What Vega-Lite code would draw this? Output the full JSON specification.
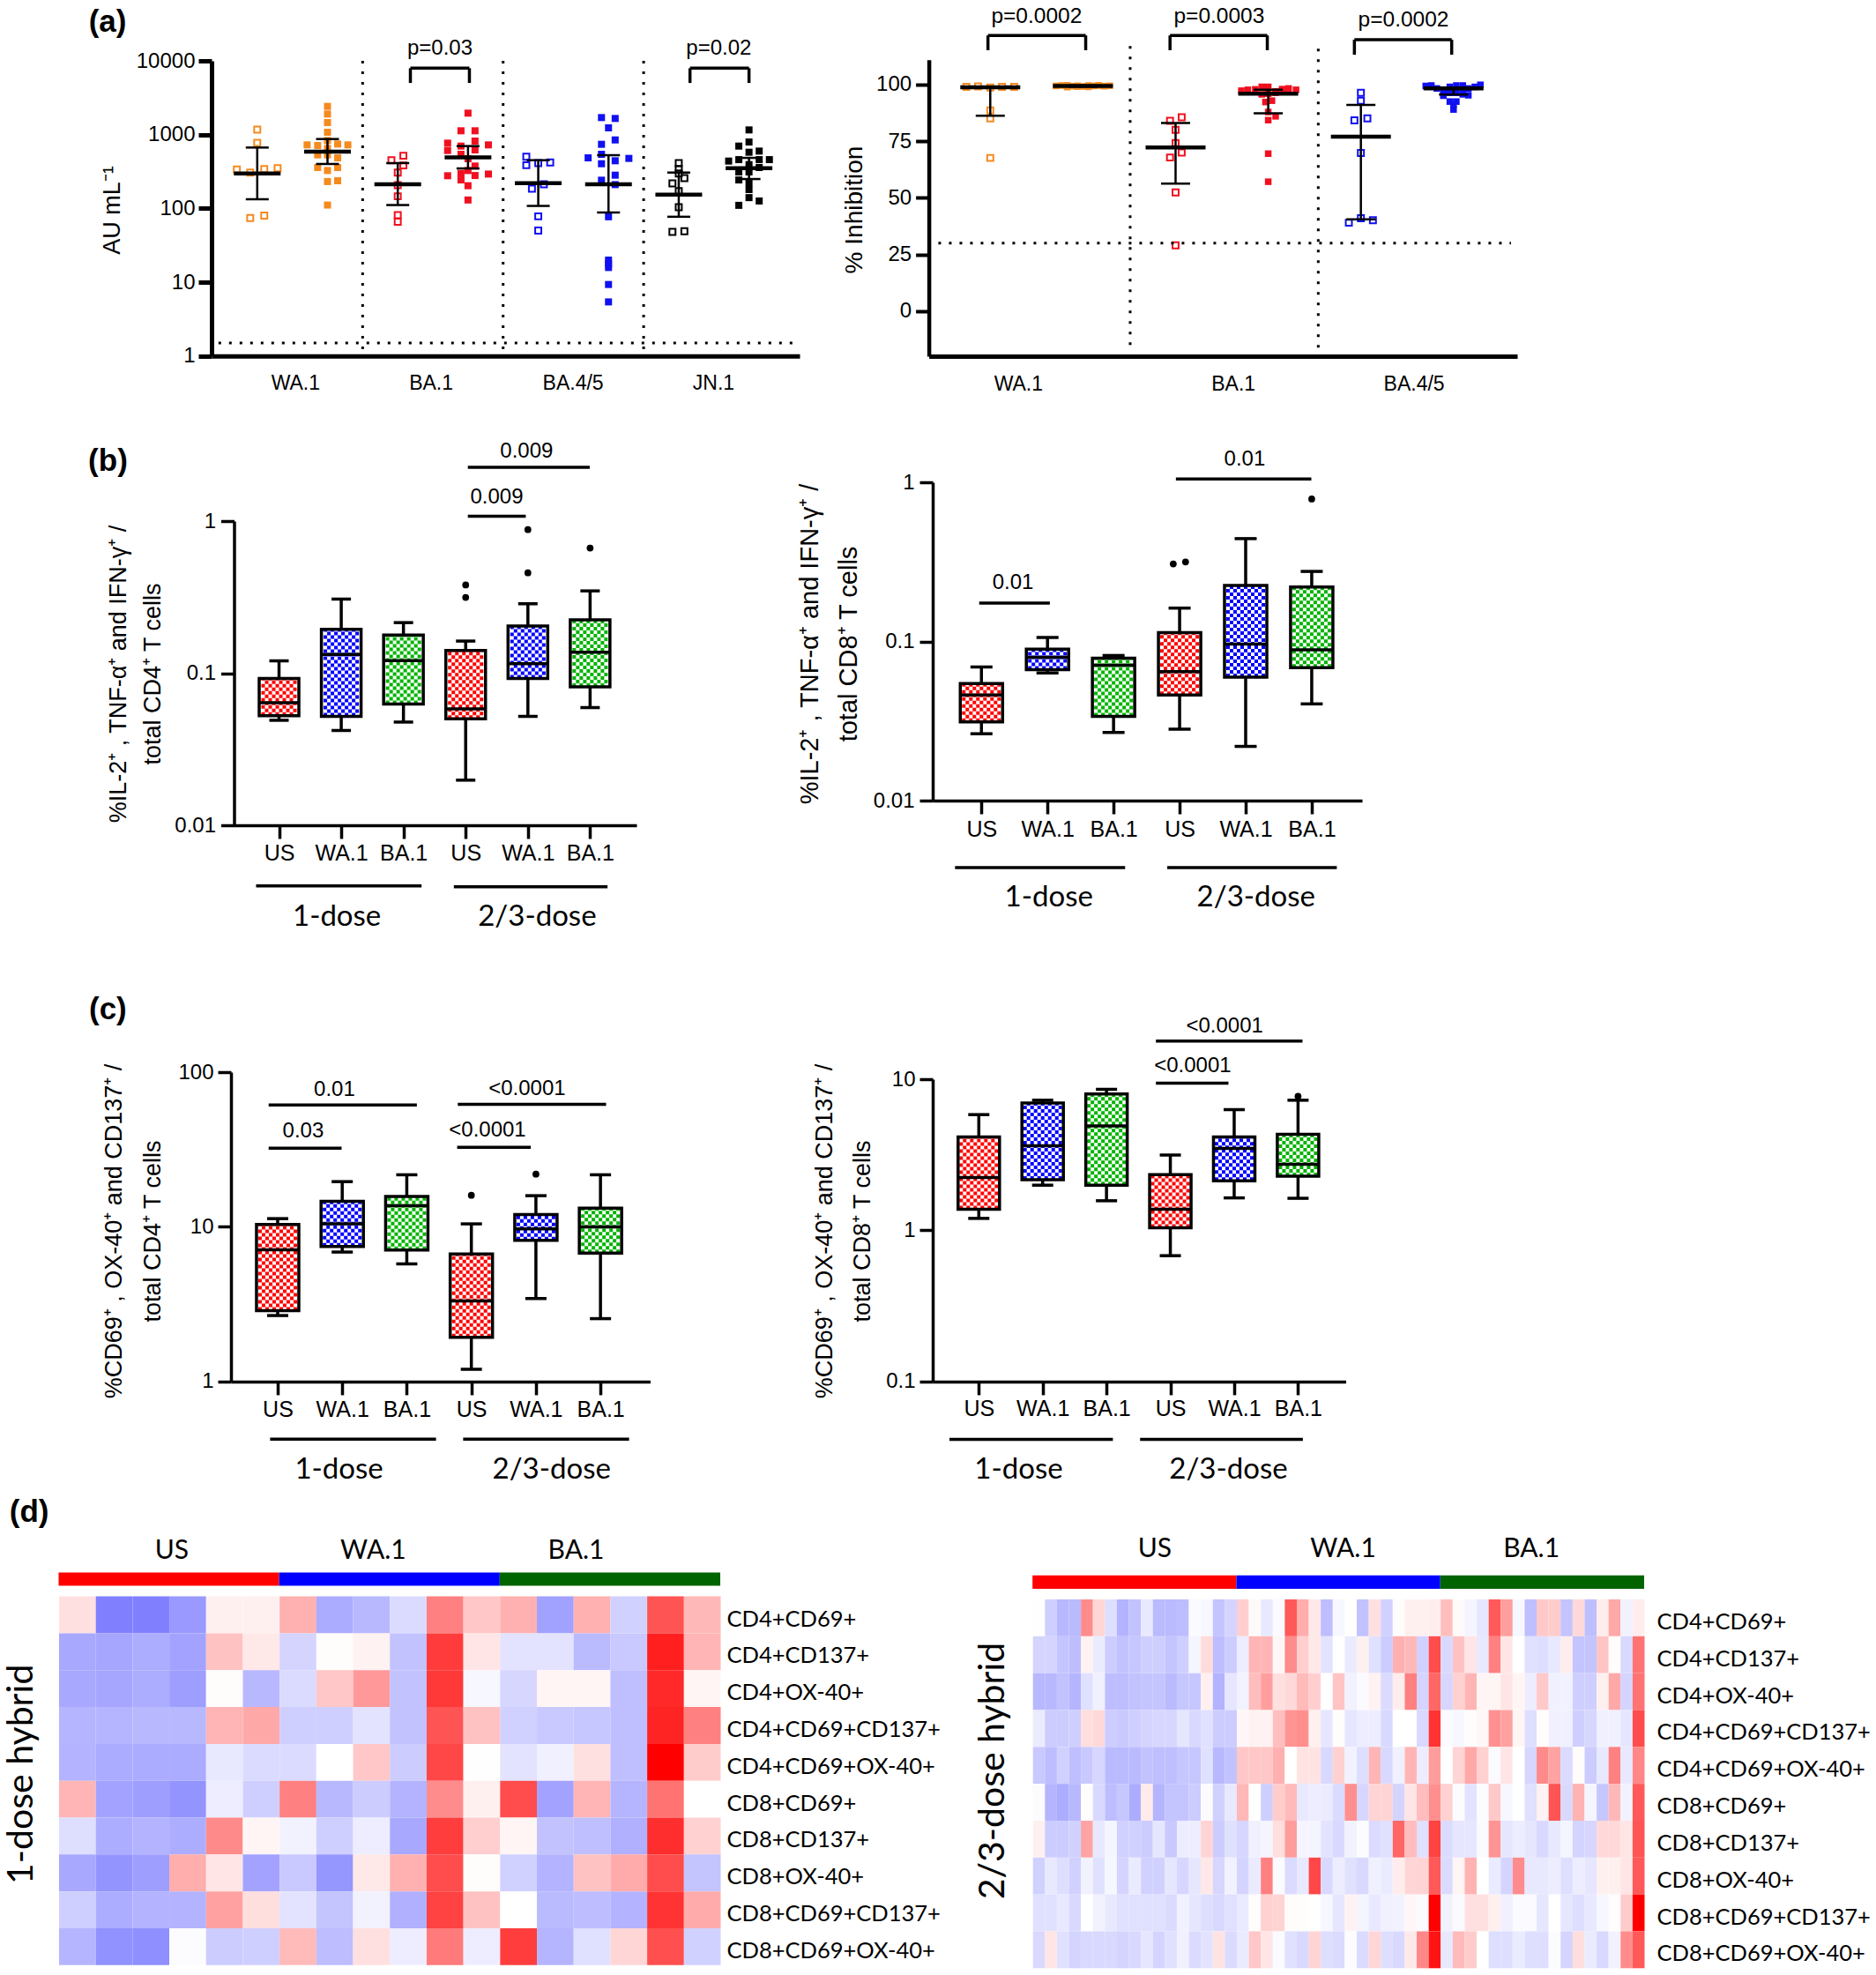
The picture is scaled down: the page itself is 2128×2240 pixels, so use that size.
{"$schema":"https://vega.github.io/schema/vega-lite/v6.json","background":"white","padding":0,"columns":2,"spacing":0,"bounds":"flush","align":"each","resolve":{"scale":{"color":"independent","fill":"independent"}},
"config":{"view":{"stroke":null},"axis":{"grid":false,"labelFont":"Liberation Sans","titleFont":"Liberation Sans","labelColor":"#000","titleColor":"#000","domainColor":"#000","tickColor":"#000","titleFontWeight":"normal","labelOverlap":false,"labelFlush":false,"labelBound":false,"titleFontSize":27,"labelFontSize":24,"titleAngle":270,"titleAlign":"center","titleBaseline":"middle"},"text":{"font":"Liberation Sans","baseline":"middle","align":"center","color":"#000"}},
"concat":[
{"width":880,"height":470,"layer":[
{"data":{"name":"a1"},"transform":[{"filter":"datum.o==1"}],"mark":{"type":"point","shape":"square","filled":false,"strokeWidth":2,"size":48,"opacity":1},"encoding":{"x":{"field":"x","type":"quantitative","scale":{"domain":[0.35,8.72],"range":[240,907],"nice":false,"zero":false},"axis":{"offset":-66.3,"values":[1.54,3.47,5.49,7.49],"labelExpr":"datum.value<2?'WA.1':datum.value<4?'BA.1':datum.value<6?'BA.4/5':'JN.1'","title":null,"ticks":false,"tickSize":0,"labelPadding":20,"labelFontSize":23,"domainWidth":5}},"y":{"field":"y","type":"quantitative","scale":{"type":"log","domain":[1,10000],"range":[403.7,69],"nice":false},"axis":{"offset":-240,"values":[1,10,100,1000,10000],"labelExpr":"datum.value+''","title":"AU mL⁻¹","titleX":-113,"titleY":238,"titleFontSize":27,"tickSize":15,"tickWidth":5,"domainWidth":5,"labelPadding":4,"labelFontSize":24}},"color":{"field":"v","type":"nominal","scale":{"domain":["WA.1","BA.1","BA.4/5","JN.1"],"range":["#f58a1f","#f01020","#1010f0","#000000"]},"legend":null}}},
{"data":{"name":"a1"},"transform":[{"filter":"datum.o==0"}],"mark":{"type":"point","shape":"square","filled":true,"size":64,"opacity":1},"encoding":{"x":{"field":"x","type":"quantitative"},"y":{"field":"y","type":"quantitative"},"color":{"field":"v","type":"nominal"}}},
{"data":{"name":"a1s"},"encoding":{"x":{"field":"x","type":"quantitative"}},"layer":[{"mark":{"type":"rule","strokeWidth":2.5,"color":"#000"},"encoding":{"y":{"field":"l","type":"quantitative"},"y2":{"field":"h"}}},{"mark":{"type":"tick","orient":"horizontal","size":53,"thickness":4.5,"color":"#000","opacity":1},"encoding":{"y":{"field":"m","type":"quantitative"}}},{"mark":{"type":"tick","orient":"horizontal","size":26,"thickness":2.5,"color":"#000","opacity":1},"encoding":{"y":{"field":"l","type":"quantitative"}}},{"mark":{"type":"tick","orient":"horizontal","size":26,"thickness":2.5,"color":"#000","opacity":1},"encoding":{"y":{"field":"h","type":"quantitative"}}}]},
{"data":{"values":[{"x":2.5,"x2":2.5,"y":10000,"y2":1},{"x":4.5,"x2":4.5,"y":10000,"y2":1},{"x":6.5,"x2":6.5,"y":10000,"y2":1},{"x":0.448,"x2":8.64,"y":1.5,"y2":1.5}]},"mark":{"type":"rule","strokeWidth":3,"strokeDash":[3,9],"color":"#000"},"encoding":{"x":{"field":"x","type":"quantitative"},"x2":{"field":"x2"},"y":{"field":"y","type":"quantitative"},"y2":{"field":"y2"}}},
{"data":{"values":[{"x":3.18,"x2":4.02,"y":7943,"y2":7943},{"x":3.18,"x2":3.18,"y":7943,"y2":5012},{"x":4.02,"x2":4.02,"y":7943,"y2":5012},{"x":7.16,"x2":8,"y":7943,"y2":7943},{"x":7.16,"x2":7.16,"y":7943,"y2":5012},{"x":8,"x2":8,"y":7943,"y2":5012}]},"mark":{"type":"rule","strokeWidth":3.5,"color":"#000"},"encoding":{"x":{"field":"x","type":"quantitative"},"x2":{"field":"x2"},"y":{"field":"y","type":"quantitative"},"y2":{"field":"y2"}}},
{"data":{"values":[{"t":"p=0.03","x":3.6,"y":14660},{"t":"p=0.02","x":7.57,"y":14660}]},"mark":{"type":"text","fontSize":24},"encoding":{"text":{"field":"t"},"x":{"field":"x","type":"quantitative"},"y":{"field":"y","type":"quantitative"}}},
{"data":{"values":[{"t":"(a)","x":-1.13,"y":33500}]},"mark":{"type":"text","fontSize":35,"fontWeight":"bold"},"encoding":{"text":{"field":"t"},"x":{"field":"x","type":"quantitative"},"y":{"field":"y","type":"quantitative"}}}
]},
{"width":1248,"height":470,"layer":[
{"data":{"name":"a2"},"transform":[{"filter":"datum.o==1"}],"mark":{"type":"point","shape":"square","filled":false,"strokeWidth":2,"size":48,"opacity":1},"encoding":{"x":{"field":"x","type":"quantitative","scale":{"domain":[0.337,6.687],"range":[173.6,841],"nice":false,"zero":false},"axis":{"offset":-66,"values":[1.3,3.62,5.57],"labelExpr":"datum.value<2?'WA.1':datum.value<4?'BA.1':'BA.4/5'","title":null,"ticks":false,"tickSize":0,"labelPadding":20,"labelFontSize":23,"domainWidth":5}},"y":{"field":"y","type":"quantitative","scale":{"domain":[-20,111],"range":[404.1,67.7],"nice":false,"zero":false},"axis":{"offset":-173.6,"values":[0,25,50,75,100],"title":"% Inhibition","titleX":-84.6,"titleY":237.5,"titleFontSize":28,"tickSize":15,"tickWidth":4,"domainWidth":4.5,"labelPadding":5}},"color":{"field":"v","type":"nominal","scale":{"domain":["WA.1","BA.1","BA.4/5"],"range":["#f58a1f","#f01020","#1010f0"]},"legend":null}}},
{"data":{"name":"a2"},"transform":[{"filter":"datum.o==0"}],"mark":{"type":"point","shape":"square","filled":true,"size":56,"opacity":1},"encoding":{"x":{"field":"x","type":"quantitative"},"y":{"field":"y","type":"quantitative"},"color":{"field":"v","type":"nominal"}}},
{"data":{"name":"a2s"},"encoding":{"x":{"field":"x","type":"quantitative"}},"layer":[{"mark":{"type":"rule","strokeWidth":2.5,"color":"#000"},"encoding":{"y":{"field":"l","type":"quantitative"},"y2":{"field":"h"}}},{"mark":{"type":"tick","orient":"horizontal","size":68,"thickness":4.5,"color":"#000","opacity":1},"encoding":{"y":{"field":"m","type":"quantitative"}}},{"mark":{"type":"tick","orient":"horizontal","size":33,"thickness":2.5,"color":"#000","opacity":1},"encoding":{"y":{"field":"l","type":"quantitative"}}},{"mark":{"type":"tick","orient":"horizontal","size":33,"thickness":2.5,"color":"#000","opacity":1},"encoding":{"y":{"field":"h","type":"quantitative"}}}]},
{"data":{"values":[{"x":2.51,"x2":2.51,"y":117,"y2":-15.7},{"x":4.54,"x2":4.54,"y":115.8,"y2":-17},{"x":0.44,"x2":6.62,"y":30,"y2":30}]},"mark":{"type":"rule","strokeWidth":3,"strokeDash":[3,9],"color":"#000"},"encoding":{"x":{"field":"x","type":"quantitative"},"x2":{"field":"x2"},"y":{"field":"y","type":"quantitative"},"y2":{"field":"y2"}}},
{"data":{"values":[{"x":0.975,"x2":2.03,"y":121.7,"y2":121.7},{"x":0.975,"x2":0.975,"y":121.7,"y2":115.2},{"x":2.03,"x2":2.03,"y":121.7,"y2":115.2},{"x":2.94,"x2":3.99,"y":121.7,"y2":121.7},{"x":2.94,"x2":2.94,"y":121.7,"y2":115.2},{"x":3.99,"x2":3.99,"y":121.7,"y2":115.2},{"x":4.93,"x2":5.98,"y":119.8,"y2":119.8},{"x":4.93,"x2":4.93,"y":119.8,"y2":113.2},{"x":5.98,"x2":5.98,"y":119.8,"y2":113.2}]},"mark":{"type":"rule","strokeWidth":3.5,"color":"#000"},"encoding":{"x":{"field":"x","type":"quantitative"},"x2":{"field":"x2"},"y":{"field":"y","type":"quantitative"},"y2":{"field":"y2"}}},
{"data":{"values":[{"t":"p=0.0002","x":1.5,"y":130},{"t":"p=0.0003","x":3.47,"y":130},{"t":"p=0.0002","x":5.46,"y":128.6}]},"mark":{"type":"text","fontSize":24.5},"encoding":{"text":{"field":"t"},"x":{"field":"x","type":"quantitative"},"y":{"field":"y","type":"quantitative"}}}
]},
{"width":880,"height":620,"layer":[
{"data":{"name":"b1"},"encoding":{"x":{"field":"x","type":"quantitative","scale":{"domain":[0.348,6.675],"range":[265.5,722],"nice":false,"zero":false},"axis":{"offset":-154,"values":[1,2,3,4,5,6],"labelExpr":"['','US','WA.1','BA.1','US','WA.1','BA.1'][datum.value]","title":null,"labelPadding":4,"labelFontSize":25,"tickSize":15,"tickWidth":3.5,"domainWidth":3.5}}},"layer":[
{"mark":{"type":"rule","strokeWidth":3.5,"color":"#000"},"encoding":{"y":{"field":"lo","type":"quantitative","scale":{"type":"log","domain":[0.01,1],"range":[466,121],"nice":false},"axis":{"offset":-265.5,"values":[0.01,0.1,1],"labelExpr":"datum.value+''","title":["%IL-2⁺ ,  TNF-α⁺  and IFN-γ⁺ /","total CD4⁺ T cells"],"titleX":-131.4,"titleY":294,"titleLineHeight":39,"tickSize":15,"tickWidth":3.5,"domainWidth":3.5,"labelPadding":6}},"y2":{"field":"hi"}}},
{"mark":{"type":"bar","size":45,"color":"white"},"encoding":{"y":{"field":"q1","type":"quantitative"},"y2":{"field":"q3"}}},
{"encoding":{"y":{"field":"q1","type":"quantitative"},"y2":{"field":"q3"},"color":{"field":"c","type":"nominal","scale":{"domain":["US","WA.1","BA.1"],"range":["#ff0000","#0000ff","#00b400"]},"legend":null}},"layer":[{"mark":{"type":"rule","strokeWidth":4,"xOffset":-18,"strokeDash":[4,4]}},{"mark":{"type":"rule","strokeWidth":4,"xOffset":-14,"strokeDash":[4,4],"strokeDashOffset":4}},{"mark":{"type":"rule","strokeWidth":4,"xOffset":-10,"strokeDash":[4,4]}},{"mark":{"type":"rule","strokeWidth":4,"xOffset":-6,"strokeDash":[4,4],"strokeDashOffset":4}},{"mark":{"type":"rule","strokeWidth":4,"xOffset":-2,"strokeDash":[4,4]}},{"mark":{"type":"rule","strokeWidth":4,"xOffset":2,"strokeDash":[4,4],"strokeDashOffset":4}},{"mark":{"type":"rule","strokeWidth":4,"xOffset":6,"strokeDash":[4,4]}},{"mark":{"type":"rule","strokeWidth":4,"xOffset":10,"strokeDash":[4,4],"strokeDashOffset":4}},{"mark":{"type":"rule","strokeWidth":4,"xOffset":14,"strokeDash":[4,4]}},{"mark":{"type":"rule","strokeWidth":4,"xOffset":18,"strokeDash":[4,4],"strokeDashOffset":4}}]},
{"mark":{"type":"bar","size":45,"fillOpacity":0,"stroke":"#000","strokeWidth":3.5},"encoding":{"y":{"field":"q1","type":"quantitative"},"y2":{"field":"q3"}}},
{"mark":{"type":"tick","orient":"horizontal","size":45,"thickness":3.5,"color":"#000","opacity":1},"encoding":{"y":{"field":"med","type":"quantitative"}}},
{"mark":{"type":"tick","orient":"horizontal","size":22,"thickness":3.5,"color":"#000","opacity":1},"encoding":{"y":{"field":"lo","type":"quantitative"}}},
{"mark":{"type":"tick","orient":"horizontal","size":22,"thickness":3.5,"color":"#000","opacity":1},"encoding":{"y":{"field":"hi","type":"quantitative"}}}
]},
{"data":{"values":[{"x":4,"y":0.38},{"x":4,"y":0.315},{"x":5,"y":0.879},{"x":5,"y":0.457},{"x":6,"y":0.665}]},"mark":{"type":"point","filled":true,"shape":"circle","size":60,"color":"#000","opacity":1},"encoding":{"x":{"field":"x","type":"quantitative"},"y":{"field":"y","type":"quantitative"}}},
{"data":{"values":[{"x":4.035,"x2":5.994,"y":2.257,"y2":2.257},{"x":4.035,"x2":4.966,"y":1.077,"y2":1.077},{"x":0.631,"x2":3.291,"y":0.00399,"y2":0.00399},{"x":3.81,"x2":6.28,"y":0.00394,"y2":0.00394}]},"mark":{"type":"rule","strokeWidth":3.5,"color":"#000"},"encoding":{"x":{"field":"x","type":"quantitative"},"x2":{"field":"x2"},"y":{"field":"y","type":"quantitative"},"y2":{"field":"y2"}}},
{"data":{"values":[{"t":"0.009","x":4.98,"y":2.86},{"t":"0.009","x":4.5,"y":1.43}]},"mark":{"type":"text","fontSize":24},"encoding":{"text":{"field":"t"},"x":{"field":"x","type":"quantitative"},"y":{"field":"y","type":"quantitative"}}},
{"data":{"values":[{"t":"1-dose","x":1.93,"y":0.0025},{"t":"2/3-dose","x":5.15,"y":0.0025}]},"mark":{"type":"text","fontSize":33,"font":"Lato"},"encoding":{"text":{"field":"t"},"x":{"field":"x","type":"quantitative"},"y":{"field":"y","type":"quantitative"}}},
{"data":{"values":[{"t":"(b)","x":-1.75,"y":2.48}]},"mark":{"type":"text","fontSize":35,"fontWeight":"bold"},"encoding":{"text":{"field":"t"},"x":{"field":"x","type":"quantitative"},"y":{"field":"y","type":"quantitative"}}}
]},
{"width":1248,"height":620,"layer":[
{"data":{"name":"b2"},"encoding":{"x":{"field":"x","type":"quantitative","scale":{"domain":[0.329,6.695],"range":[178,665],"nice":false,"zero":false},"axis":{"offset":-182,"values":[1,2,3,4,5,6],"labelExpr":"['','US','WA.1','BA.1','US','WA.1','BA.1'][datum.value]","title":null,"labelPadding":5,"labelFontSize":25,"tickSize":15,"tickWidth":3.5,"domainWidth":3.5}}},"layer":[
{"mark":{"type":"rule","strokeWidth":3.5,"color":"#000"},"encoding":{"y":{"field":"lo","type":"quantitative","scale":{"type":"log","domain":[0.01,1],"range":[438,77],"nice":false},"axis":{"offset":-178,"values":[0.01,0.1,1],"labelExpr":"datum.value+''","title":["%IL-2⁺ ,  TNF-α⁺  and IFN-γ⁺ /","total CD8⁺ T cells"],"titleX":-139.2,"titleY":260,"titleFontSize":29,"titleLineHeight":43.6,"tickSize":15,"tickWidth":3.5,"domainWidth":3.5,"labelPadding":6}},"y2":{"field":"hi"}}},
{"mark":{"type":"bar","size":48,"color":"white"},"encoding":{"y":{"field":"q1","type":"quantitative"},"y2":{"field":"q3"}}},
{"encoding":{"y":{"field":"q1","type":"quantitative"},"y2":{"field":"q3"},"color":{"field":"c","type":"nominal","scale":{"domain":["US","WA.1","BA.1"],"range":["#ff0000","#0000ff","#00b400"]},"legend":null}},"layer":[{"mark":{"type":"rule","strokeWidth":4,"xOffset":-20,"strokeDash":[4,4]}},{"mark":{"type":"rule","strokeWidth":4,"xOffset":-16,"strokeDash":[4,4],"strokeDashOffset":4}},{"mark":{"type":"rule","strokeWidth":4,"xOffset":-12,"strokeDash":[4,4]}},{"mark":{"type":"rule","strokeWidth":4,"xOffset":-8,"strokeDash":[4,4],"strokeDashOffset":4}},{"mark":{"type":"rule","strokeWidth":4,"xOffset":-4,"strokeDash":[4,4]}},{"mark":{"type":"rule","strokeWidth":4,"xOffset":0,"strokeDash":[4,4],"strokeDashOffset":4}},{"mark":{"type":"rule","strokeWidth":4,"xOffset":4,"strokeDash":[4,4]}},{"mark":{"type":"rule","strokeWidth":4,"xOffset":8,"strokeDash":[4,4],"strokeDashOffset":4}},{"mark":{"type":"rule","strokeWidth":4,"xOffset":12,"strokeDash":[4,4]}},{"mark":{"type":"rule","strokeWidth":4,"xOffset":16,"strokeDash":[4,4],"strokeDashOffset":4}},{"mark":{"type":"rule","strokeWidth":4,"xOffset":20,"strokeDash":[4,4]}}]},
{"mark":{"type":"bar","size":48,"fillOpacity":0,"stroke":"#000","strokeWidth":3.5},"encoding":{"y":{"field":"q1","type":"quantitative"},"y2":{"field":"q3"}}},
{"mark":{"type":"tick","orient":"horizontal","size":48,"thickness":3.5,"color":"#000","opacity":1},"encoding":{"y":{"field":"med","type":"quantitative"}}},
{"mark":{"type":"tick","orient":"horizontal","size":25,"thickness":3.5,"color":"#000","opacity":1},"encoding":{"y":{"field":"lo","type":"quantitative"}}},
{"mark":{"type":"tick","orient":"horizontal","size":25,"thickness":3.5,"color":"#000","opacity":1},"encoding":{"y":{"field":"hi","type":"quantitative"}}}
]},
{"data":{"values":[{"x":3.904,"y":0.307},{"x":4.09,"y":0.316},{"x":6,"y":0.785}]},"mark":{"type":"point","filled":true,"shape":"circle","size":60,"color":"#000","opacity":1},"encoding":{"x":{"field":"x","type":"quantitative"},"y":{"field":"y","type":"quantitative"}}},
{"data":{"values":[{"x":3.944,"x2":5.994,"y":1.05,"y2":1.05},{"x":0.966,"x2":2.036,"y":0.174,"y2":0.174},{"x":0.6,"x2":3.175,"y":0.00379,"y2":0.00379},{"x":3.813,"x2":6.38,"y":0.00379,"y2":0.00379}]},"mark":{"type":"rule","strokeWidth":3.5,"color":"#000"},"encoding":{"x":{"field":"x","type":"quantitative"},"x2":{"field":"x2"},"y":{"field":"y","type":"quantitative"},"y2":{"field":"y2"}}},
{"data":{"values":[{"t":"0.01","x":4.986,"y":1.4},{"t":"0.01","x":1.478,"y":0.2335}]},"mark":{"type":"text","fontSize":24},"encoding":{"text":{"field":"t"},"x":{"field":"x","type":"quantitative"},"y":{"field":"y","type":"quantitative"}}},
{"data":{"values":[{"t":"1-dose","x":2.02,"y":0.00247},{"t":"2/3-dose","x":5.157,"y":0.00247}]},"mark":{"type":"text","fontSize":33,"font":"Lato"},"encoding":{"text":{"field":"t"},"x":{"field":"x","type":"quantitative"},"y":{"field":"y","type":"quantitative"}}}
]},
{"width":880,"height":600,"layer":[
{"data":{"name":"c1"},"encoding":{"x":{"field":"x","type":"quantitative","scale":{"domain":[0.345,6.7],"range":[262,737.4],"nice":false,"zero":false},"axis":{"offset":-123.1,"values":[1,2,3,4,5,6],"labelExpr":"['','US','WA.1','BA.1','US','WA.1','BA.1'][datum.value]","title":null,"labelPadding":5,"labelFontSize":25,"tickSize":15,"tickWidth":3.5,"domainWidth":3.5}}},"layer":[
{"mark":{"type":"rule","strokeWidth":3.5,"color":"#000"},"encoding":{"y":{"field":"lo","type":"quantitative","scale":{"type":"log","domain":[1,100],"range":[476.9,126],"nice":false},"axis":{"offset":-262,"values":[1,10,100],"labelExpr":"datum.value+''","title":["%CD69⁺ ,  OX-40⁺  and CD137⁺ /","total  CD4⁺ T cells"],"titleX":-132.4,"titleY":306,"titleLineHeight":43.6,"tickSize":15,"tickWidth":3.5,"domainWidth":3.5,"labelPadding":5}},"y2":{"field":"hi"}}},
{"mark":{"type":"bar","size":48,"color":"white"},"encoding":{"y":{"field":"q1","type":"quantitative"},"y2":{"field":"q3"}}},
{"encoding":{"y":{"field":"q1","type":"quantitative"},"y2":{"field":"q3"},"color":{"field":"c","type":"nominal","scale":{"domain":["US","WA.1","BA.1"],"range":["#ff0000","#0000ff","#00b400"]},"legend":null}},"layer":[{"mark":{"type":"rule","strokeWidth":4,"xOffset":-20,"strokeDash":[4,4]}},{"mark":{"type":"rule","strokeWidth":4,"xOffset":-16,"strokeDash":[4,4],"strokeDashOffset":4}},{"mark":{"type":"rule","strokeWidth":4,"xOffset":-12,"strokeDash":[4,4]}},{"mark":{"type":"rule","strokeWidth":4,"xOffset":-8,"strokeDash":[4,4],"strokeDashOffset":4}},{"mark":{"type":"rule","strokeWidth":4,"xOffset":-4,"strokeDash":[4,4]}},{"mark":{"type":"rule","strokeWidth":4,"xOffset":0,"strokeDash":[4,4],"strokeDashOffset":4}},{"mark":{"type":"rule","strokeWidth":4,"xOffset":4,"strokeDash":[4,4]}},{"mark":{"type":"rule","strokeWidth":4,"xOffset":8,"strokeDash":[4,4],"strokeDashOffset":4}},{"mark":{"type":"rule","strokeWidth":4,"xOffset":12,"strokeDash":[4,4]}},{"mark":{"type":"rule","strokeWidth":4,"xOffset":16,"strokeDash":[4,4],"strokeDashOffset":4}},{"mark":{"type":"rule","strokeWidth":4,"xOffset":20,"strokeDash":[4,4]}}]},
{"mark":{"type":"bar","size":48,"fillOpacity":0,"stroke":"#000","strokeWidth":3.5},"encoding":{"y":{"field":"q1","type":"quantitative"},"y2":{"field":"q3"}}},
{"mark":{"type":"tick","orient":"horizontal","size":48,"thickness":3.5,"color":"#000","opacity":1},"encoding":{"y":{"field":"med","type":"quantitative"}}},
{"mark":{"type":"tick","orient":"horizontal","size":24,"thickness":3.5,"color":"#000","opacity":1},"encoding":{"y":{"field":"lo","type":"quantitative"}}},
{"mark":{"type":"tick","orient":"horizontal","size":24,"thickness":3.5,"color":"#000","opacity":1},"encoding":{"y":{"field":"hi","type":"quantitative"}}}
]},
{"data":{"values":[{"x":4,"y":16},{"x":5,"y":21.9}]},"mark":{"type":"point","filled":true,"shape":"circle","size":60,"color":"#000","opacity":1},"encoding":{"x":{"field":"x","type":"quantitative"},"y":{"field":"y","type":"quantitative"}}},
{"data":{"values":[{"x":0.86,"x2":3.156,"y":61.4,"y2":61.4},{"x":0.86,"x2":1.99,"y":32.2,"y2":32.2},{"x":3.79,"x2":6.087,"y":62,"y2":62},{"x":3.78,"x2":4.92,"y":32.7,"y2":32.7},{"x":0.883,"x2":3.453,"y":0.424,"y2":0.424},{"x":3.873,"x2":6.443,"y":0.424,"y2":0.424}]},"mark":{"type":"rule","strokeWidth":3.5,"color":"#000"},"encoding":{"x":{"field":"x","type":"quantitative"},"x2":{"field":"x2"},"y":{"field":"y","type":"quantitative"},"y2":{"field":"y2"}}},
{"data":{"values":[{"t":"0.01","x":1.88,"y":77.2},{"t":"0.03","x":1.396,"y":41.6},{"t":"<0.0001","x":4.864,"y":78},{"t":"<0.0001","x":4.25,"y":42.2}]},"mark":{"type":"text","fontSize":24},"encoding":{"text":{"field":"t"},"x":{"field":"x","type":"quantitative"},"y":{"field":"y","type":"quantitative"}}},
{"data":{"values":[{"t":"1-dose","x":1.95,"y":0.27},{"t":"2/3-dose","x":5.243,"y":0.27}]},"mark":{"type":"text","fontSize":33,"font":"Lato"},"encoding":{"text":{"field":"t"},"x":{"field":"x","type":"quantitative"},"y":{"field":"y","type":"quantitative"}}},
{"data":{"values":[{"t":"(c)","x":-1.63,"y":254}]},"mark":{"type":"text","fontSize":35,"fontWeight":"bold"},"encoding":{"text":{"field":"t"},"x":{"field":"x","type":"quantitative"},"y":{"field":"y","type":"quantitative"}}}
]},
{"width":1248,"height":600,"layer":[
{"data":{"name":"c2"},"encoding":{"x":{"field":"x","type":"quantitative","scale":{"domain":[0.347,6.678],"range":[178,646.5],"nice":false,"zero":false},"axis":{"offset":-123.1,"values":[1,2,3,4,5,6],"labelExpr":"['','US','WA.1','BA.1','US','WA.1','BA.1'][datum.value]","title":null,"labelPadding":4,"labelFontSize":25,"tickSize":15,"tickWidth":3.5,"domainWidth":3.5}}},"layer":[
{"mark":{"type":"rule","strokeWidth":3.5,"color":"#000"},"encoding":{"y":{"field":"lo","type":"quantitative","scale":{"type":"log","domain":[0.1,10],"range":[476.9,134],"nice":false},"axis":{"offset":-178,"values":[0.1,1,10],"labelExpr":"datum.value+''","title":["%CD69⁺ ,  OX-40⁺  and CD137⁺ /","total  CD8⁺ T cells"],"titleX":-122.3,"titleY":306,"titleLineHeight":42.6,"tickSize":15,"tickWidth":3.5,"domainWidth":3.5,"labelPadding":5}},"y2":{"field":"hi"}}},
{"mark":{"type":"bar","size":47,"color":"white"},"encoding":{"y":{"field":"q1","type":"quantitative"},"y2":{"field":"q3"}}},
{"encoding":{"y":{"field":"q1","type":"quantitative"},"y2":{"field":"q3"},"color":{"field":"c","type":"nominal","scale":{"domain":["US","WA.1","BA.1"],"range":["#ff0000","#0000ff","#00b400"]},"legend":null}},"layer":[{"mark":{"type":"rule","strokeWidth":4,"xOffset":-20,"strokeDash":[4,4]}},{"mark":{"type":"rule","strokeWidth":4,"xOffset":-16,"strokeDash":[4,4],"strokeDashOffset":4}},{"mark":{"type":"rule","strokeWidth":4,"xOffset":-12,"strokeDash":[4,4]}},{"mark":{"type":"rule","strokeWidth":4,"xOffset":-8,"strokeDash":[4,4],"strokeDashOffset":4}},{"mark":{"type":"rule","strokeWidth":4,"xOffset":-4,"strokeDash":[4,4]}},{"mark":{"type":"rule","strokeWidth":4,"xOffset":0,"strokeDash":[4,4],"strokeDashOffset":4}},{"mark":{"type":"rule","strokeWidth":4,"xOffset":4,"strokeDash":[4,4]}},{"mark":{"type":"rule","strokeWidth":4,"xOffset":8,"strokeDash":[4,4],"strokeDashOffset":4}},{"mark":{"type":"rule","strokeWidth":4,"xOffset":12,"strokeDash":[4,4]}},{"mark":{"type":"rule","strokeWidth":4,"xOffset":16,"strokeDash":[4,4],"strokeDashOffset":4}},{"mark":{"type":"rule","strokeWidth":4,"xOffset":20,"strokeDash":[4,4]}}]},
{"mark":{"type":"bar","size":47,"fillOpacity":0,"stroke":"#000","strokeWidth":3.5},"encoding":{"y":{"field":"q1","type":"quantitative"},"y2":{"field":"q3"}}},
{"mark":{"type":"tick","orient":"horizontal","size":47,"thickness":3.5,"color":"#000","opacity":1},"encoding":{"y":{"field":"med","type":"quantitative"}}},
{"mark":{"type":"tick","orient":"horizontal","size":24,"thickness":3.5,"color":"#000","opacity":1},"encoding":{"y":{"field":"lo","type":"quantitative"}}},
{"mark":{"type":"tick","orient":"horizontal","size":24,"thickness":3.5,"color":"#000","opacity":1},"encoding":{"y":{"field":"hi","type":"quantitative"}}}
]},
{"data":{"values":[{"x":6,"y":7.71}]},"mark":{"type":"point","filled":true,"shape":"circle","size":60,"color":"#000","opacity":1},"encoding":{"x":{"field":"x","type":"quantitative"},"y":{"field":"y","type":"quantitative"}}},
{"data":{"values":[{"x":3.774,"x2":6.07,"y":17.9,"y2":17.9},{"x":3.774,"x2":4.91,"y":9.42,"y2":9.42},{"x":0.54,"x2":3.1,"y":0.0415,"y2":0.0415},{"x":3.526,"x2":6.076,"y":0.0415,"y2":0.0415}]},"mark":{"type":"rule","strokeWidth":3.5,"color":"#000"},"encoding":{"x":{"field":"x","type":"quantitative"},"x2":{"field":"x2"},"y":{"field":"y","type":"quantitative"},"y2":{"field":"y2"}}},
{"data":{"values":[{"t":"<0.0001","x":4.85,"y":22.4},{"t":"<0.0001","x":4.35,"y":12.2}]},"mark":{"type":"text","fontSize":24},"encoding":{"text":{"field":"t"},"x":{"field":"x","type":"quantitative"},"y":{"field":"y","type":"quantitative"}}},
{"data":{"values":[{"t":"1-dose","x":1.624,"y":0.0262},{"t":"2/3-dose","x":4.91,"y":0.0262}]},"mark":{"type":"text","fontSize":33,"font":"Lato"},"encoding":{"text":{"field":"t"},"x":{"field":"x","type":"quantitative"},"y":{"field":"y","type":"quantitative"}}}
]},
{"width":880,"height":550,"resolve":{"scale":{"y":"independent"}},"layer":[
{"data":{"name":"d1"},"mark":{"type":"rect"},"encoding":{"x":{"field":"c","type":"quantitative","bin":{"step":1,"extent":[1,19]},"scale":{"domain":[1,19],"range":[66.5,817],"nice":false,"zero":false},"axis":null},"y":{"field":"r","type":"ordinal","scale":{"domain":[1,2,3,4,5,6,7,8,9,10],"range":[120.6,538.8],"paddingInner":0,"paddingOuter":0},"axis":{"orient":"right","offset":-59,"domain":false,"ticks":false,"labelPadding":3,"labelOffset":5,"labelFont":"Lato","labelFontSize":25.5,"labelLimit":400,"labelAngle":0,"labelExpr":"['CD4+CD69+','CD4+CD137+','CD4+OX-40+','CD4+CD69+CD137+','CD4+CD69+OX-40+','CD8+CD69+','CD8+CD137+','CD8+OX-40+','CD8+CD69+CD137+','CD8+CD69+OX-40+'][datum.value-1]","title":"1-dose hybrid","titleFont":"Lato","titleFontSize":41,"titleX":-797,"titleY":321.8}},"color":{"field":"v","type":"quantitative","scale":{"domain":[-10,0,10],"range":["#0000ff","#ffffff","#ff0000"],"interpolate":"rgb"},"legend":null}}},
{"data":{"values":[{"g":"US","x":1,"x2":7,"y0":0,"y1":1},{"g":"WA.1","x":7,"x2":13,"y0":0,"y1":1},{"g":"BA.1","x":13,"x2":19,"y0":0,"y1":1}]},"mark":{"type":"rect"},"encoding":{"x":{"field":"x","type":"quantitative"},"x2":{"field":"x2"},"y":{"field":"y0","type":"quantitative","scale":{"domain":[0,1],"range":[108.6,93.4],"nice":false},"axis":null},"y2":{"field":"y1"},"fill":{"field":"g","type":"nominal","scale":{"domain":["US","WA.1","BA.1"],"range":["#ff0000","#0000ff","#006400"]},"legend":null}}},
{"data":{"values":[{"t":"US","x":4.08,"y":2.62},{"t":"WA.1","x":9.56,"y":2.62},{"t":"BA.1","x":15.08,"y":2.62}]},"mark":{"type":"text","fontSize":30,"font":"Lato"},"encoding":{"text":{"field":"t"},"x":{"field":"x","type":"quantitative"},"y":{"field":"y","type":"quantitative","scale":{"domain":[0,1],"range":[108.6,93.4],"nice":false},"axis":null}}},
{"data":{"values":[{"t":"(d)","x":0.2,"y":5.5}]},"mark":{"type":"text","fontSize":35,"fontWeight":"bold"},"encoding":{"text":{"field":"t"},"x":{"field":"x","type":"quantitative"},"y":{"field":"y","type":"quantitative","scale":{"domain":[0,1],"range":[108.6,93.4],"nice":false},"axis":null}}}
]},
{"width":1248,"height":550,"resolve":{"scale":{"y":"independent"}},"layer":[
{"data":{"name":"d2"},"mark":{"type":"rect"},"encoding":{"x":{"field":"c","type":"quantitative","bin":{"step":1,"extent":[1,52]},"scale":{"domain":[1,52],"range":[291.2,985],"nice":false,"zero":false},"axis":null},"y":{"field":"r","type":"ordinal","scale":{"domain":[1,2,3,4,5,6,7,8,9,10],"range":[124,542.3],"paddingInner":0,"paddingOuter":0},"axis":{"orient":"right","offset":-252,"domain":false,"ticks":false,"labelPadding":3,"labelOffset":5,"labelFont":"Lato","labelFontSize":25.5,"labelLimit":400,"labelAngle":0,"labelExpr":"['CD4+CD69+','CD4+CD137+','CD4+OX-40+','CD4+CD69+CD137+','CD4+CD69+OX-40+','CD8+CD69+','CD8+CD137+','CD8+OX-40+','CD8+CD69+CD137+','CD8+CD69+OX-40+'][datum.value-1]","title":"2/3-dose hybrid","titleFont":"Lato","titleFontSize":41,"titleX":-749.4,"titleY":318}},"color":{"field":"v","type":"quantitative","scale":{"domain":[-10,0,10],"range":["#0000ff","#ffffff","#ff0000"],"interpolate":"rgb"},"legend":null}}},
{"data":{"values":[{"g":"US","x":1,"x2":18,"y0":0,"y1":1},{"g":"WA.1","x":18,"x2":35,"y0":0,"y1":1},{"g":"BA.1","x":35,"x2":52,"y0":0,"y1":1}]},"mark":{"type":"rect"},"encoding":{"x":{"field":"x","type":"quantitative"},"x2":{"field":"x2"},"y":{"field":"y0","type":"quantitative","scale":{"domain":[0,1],"range":[112,96.7],"nice":false},"axis":null},"y2":{"field":"y1"},"fill":{"field":"g","type":"nominal","scale":{"domain":["US","WA.1","BA.1"],"range":["#ff0000","#0000ff","#006400"]},"legend":null}}},
{"data":{"values":[{"t":"US","x":11.2,"y":2.96},{"t":"WA.1","x":26.9,"y":2.96},{"t":"BA.1","x":42.6,"y":2.96}]},"mark":{"type":"text","fontSize":30,"font":"Lato"},"encoding":{"text":{"field":"t"},"x":{"field":"x","type":"quantitative"},"y":{"field":"y","type":"quantitative","scale":{"domain":[0,1],"range":[112,96.7],"nice":false},"axis":null}}}
]}
],
"datasets":{
"a1":[{"v":"WA.1","o":1,"x":1,"y":1170},{"v":"WA.1","o":1,"x":1,"y":773},{"v":"WA.1","o":1,"x":0.71,"y":336},{"v":"WA.1","o":1,"x":0.9,"y":306},{"v":"WA.1","o":1,"x":1.1,"y":342},{"v":"WA.1","o":1,"x":1.29,"y":351},{"v":"WA.1","o":1,"x":1.1,"y":80},{"v":"WA.1","o":1,"x":0.9,"y":74},
{"v":"WA.1","o":0,"x":2,"y":2412},{"v":"WA.1","o":0,"x":2,"y":1900},{"v":"WA.1","o":0,"x":2,"y":1456},{"v":"WA.1","o":0,"x":2,"y":1076},{"v":"WA.1","o":0,"x":2,"y":832},{"v":"WA.1","o":0,"x":1.71,"y":726},{"v":"WA.1","o":0,"x":1.86,"y":712},{"v":"WA.1","o":0,"x":2.145,"y":746},{"v":"WA.1","o":0,"x":2.29,"y":726},{"v":"WA.1","o":0,"x":2,"y":650},{"v":"WA.1","o":0,"x":1.86,"y":531},{"v":"WA.1","o":0,"x":2,"y":531},{"v":"WA.1","o":0,"x":2.145,"y":484},{"v":"WA.1","o":0,"x":1.86,"y":358},{"v":"WA.1","o":0,"x":2,"y":326},{"v":"WA.1","o":0,"x":2.145,"y":358},{"v":"WA.1","o":0,"x":2,"y":231},{"v":"WA.1","o":0,"x":2.145,"y":237},{"v":"WA.1","o":0,"x":2,"y":111},
{"v":"BA.1","o":1,"x":3.08,"y":517},{"v":"BA.1","o":1,"x":2.91,"y":450},{"v":"BA.1","o":1,"x":3.08,"y":382},{"v":"BA.1","o":1,"x":3,"y":306},{"v":"BA.1","o":1,"x":3,"y":206},{"v":"BA.1","o":1,"x":3,"y":146},{"v":"BA.1","o":1,"x":3,"y":81},{"v":"BA.1","o":1,"x":3,"y":66},
{"v":"BA.1","o":0,"x":4,"y":1954},{"v":"BA.1","o":0,"x":3.9,"y":1127},{"v":"BA.1","o":0,"x":4.1,"y":1127},{"v":"BA.1","o":0,"x":4.1,"y":817},{"v":"BA.1","o":0,"x":3.71,"y":766},{"v":"BA.1","o":0,"x":3.9,"y":699},{"v":"BA.1","o":0,"x":4.29,"y":726},{"v":"BA.1","o":0,"x":4.1,"y":621},{"v":"BA.1","o":0,"x":3.71,"y":609},{"v":"BA.1","o":0,"x":3.9,"y":541},{"v":"BA.1","o":0,"x":4,"y":471},{"v":"BA.1","o":0,"x":4.1,"y":375},{"v":"BA.1","o":0,"x":4,"y":326},{"v":"BA.1","o":0,"x":3.71,"y":277},{"v":"BA.1","o":0,"x":3.9,"y":298},{"v":"BA.1","o":0,"x":4.1,"y":279},{"v":"BA.1","o":0,"x":4.29,"y":292},{"v":"BA.1","o":0,"x":3.9,"y":243},{"v":"BA.1","o":0,"x":4,"y":203},{"v":"BA.1","o":0,"x":4,"y":130},
{"v":"BA.4/5","o":1,"x":4.83,"y":502},{"v":"BA.4/5","o":1,"x":4.83,"y":385},{"v":"BA.4/5","o":1,"x":5,"y":411},{"v":"BA.4/5","o":1,"x":5.17,"y":419},{"v":"BA.4/5","o":1,"x":5.08,"y":212},{"v":"BA.4/5","o":1,"x":4.91,"y":185},{"v":"BA.4/5","o":1,"x":5,"y":78},{"v":"BA.4/5","o":1,"x":5,"y":50},
{"v":"BA.4/5","o":0,"x":5.9,"y":1702},{"v":"BA.4/5","o":0,"x":6.095,"y":1656},{"v":"BA.4/5","o":0,"x":6,"y":1236},{"v":"BA.4/5","o":0,"x":6.095,"y":847},{"v":"BA.4/5","o":0,"x":5.9,"y":739},{"v":"BA.4/5","o":0,"x":5.9,"y":541},{"v":"BA.4/5","o":0,"x":5.71,"y":484},{"v":"BA.4/5","o":0,"x":6.29,"y":476},{"v":"BA.4/5","o":0,"x":6.095,"y":442},{"v":"BA.4/5","o":0,"x":5.9,"y":403},{"v":"BA.4/5","o":0,"x":6.095,"y":282},{"v":"BA.4/5","o":0,"x":5.9,"y":241},{"v":"BA.4/5","o":0,"x":6.095,"y":210},{"v":"BA.4/5","o":0,"x":6,"y":77},{"v":"BA.4/5","o":0,"x":6,"y":19.9},{"v":"BA.4/5","o":0,"x":6,"y":17.7},{"v":"BA.4/5","o":0,"x":6,"y":15.8},{"v":"BA.4/5","o":0,"x":6,"y":9.3},{"v":"BA.4/5","o":0,"x":6,"y":5.4},
{"v":"JN.1","o":1,"x":7,"y":411},{"v":"JN.1","o":1,"x":7,"y":342},{"v":"JN.1","o":1,"x":7,"y":298},{"v":"JN.1","o":1,"x":7.08,"y":257},{"v":"JN.1","o":1,"x":6.91,"y":218},{"v":"JN.1","o":1,"x":7,"y":172},{"v":"JN.1","o":1,"x":7,"y":104},{"v":"JN.1","o":1,"x":6.91,"y":48},{"v":"JN.1","o":1,"x":7.08,"y":49},
{"v":"JN.1","o":0,"x":8,"y":1158},{"v":"JN.1","o":0,"x":8,"y":794},{"v":"JN.1","o":0,"x":7.855,"y":699},{"v":"JN.1","o":0,"x":8.145,"y":598},{"v":"JN.1","o":0,"x":8,"y":577},{"v":"JN.1","o":0,"x":7.71,"y":438},{"v":"JN.1","o":0,"x":7.855,"y":458},{"v":"JN.1","o":0,"x":8.145,"y":458},{"v":"JN.1","o":0,"x":8.29,"y":458},{"v":"JN.1","o":0,"x":8,"y":392},{"v":"JN.1","o":0,"x":7.855,"y":312},{"v":"JN.1","o":0,"x":8,"y":312},{"v":"JN.1","o":0,"x":8.145,"y":358},{"v":"JN.1","o":0,"x":7.855,"y":243},{"v":"JN.1","o":0,"x":8,"y":222},{"v":"JN.1","o":0,"x":8,"y":180},{"v":"JN.1","o":0,"x":8,"y":140},{"v":"JN.1","o":0,"x":8.145,"y":126},{"v":"JN.1","o":0,"x":7.855,"y":110}],
"a1s":[{"x":1,"m":298,"l":133,"h":668},{"x":2,"m":587,"l":400,"h":871},{"x":3,"m":212,"l":111,"h":411},{"x":4,"m":493,"l":348,"h":699},{"x":5,"m":220,"l":108,"h":450},{"x":6,"m":212,"l":88,"h":526},{"x":7,"m":154,"l":77,"h":306},{"x":8,"m":351,"l":250,"h":484}],
"a2":[{"v":"WA.1","o":1,"x":0.742,"y":99},{"v":"WA.1","o":1,"x":0.868,"y":99.2},{"v":"WA.1","o":1,"x":1,"y":98.7},{"v":"WA.1","o":1,"x":1.127,"y":99},{"v":"WA.1","o":1,"x":1.258,"y":99},{"v":"WA.1","o":1,"x":1,"y":88.6},{"v":"WA.1","o":1,"x":1,"y":85.1},{"v":"WA.1","o":1,"x":1,"y":67.6},
{"v":"WA.1","o":0,"x":1.71,"y":99.4},{"v":"WA.1","o":0,"x":1.77,"y":99.6},{"v":"WA.1","o":0,"x":1.83,"y":98.9},{"v":"WA.1","o":0,"x":1.89,"y":99.3},{"v":"WA.1","o":0,"x":1.94,"y":99.1},{"v":"WA.1","o":0,"x":2,"y":99.2},{"v":"WA.1","o":0,"x":2.06,"y":99},{"v":"WA.1","o":0,"x":2.12,"y":99.4},{"v":"WA.1","o":0,"x":2.17,"y":99.6},{"v":"WA.1","o":0,"x":2.23,"y":99.3},{"v":"WA.1","o":0,"x":2.29,"y":99.5},{"v":"WA.1","o":0,"x":1.83,"y":99.7},{"v":"WA.1","o":0,"x":1.94,"y":99.5},{"v":"WA.1","o":0,"x":2.06,"y":99.6},{"v":"WA.1","o":0,"x":2.17,"y":99.7},
{"v":"BA.1","o":1,"x":3.066,"y":85.6},{"v":"BA.1","o":1,"x":2.94,"y":84},{"v":"BA.1","o":1,"x":3,"y":80},{"v":"BA.1","o":1,"x":3,"y":74.2},{"v":"BA.1","o":1,"x":3.066,"y":70},{"v":"BA.1","o":1,"x":2.94,"y":67.8},{"v":"BA.1","o":1,"x":3,"y":52.4},{"v":"BA.1","o":1,"x":3,"y":29},
{"v":"BA.1","o":0,"x":3.71,"y":97.3},{"v":"BA.1","o":0,"x":3.78,"y":97.7},{"v":"BA.1","o":0,"x":3.86,"y":97.9},{"v":"BA.1","o":0,"x":3.93,"y":99},{"v":"BA.1","o":0,"x":4,"y":99},{"v":"BA.1","o":0,"x":4.08,"y":97},{"v":"BA.1","o":0,"x":4.15,"y":98},{"v":"BA.1","o":0,"x":4.22,"y":98.3},{"v":"BA.1","o":0,"x":4.3,"y":97.7},{"v":"BA.1","o":0,"x":3.93,"y":95.7},{"v":"BA.1","o":0,"x":4,"y":96},{"v":"BA.1","o":0,"x":4.08,"y":96.4},{"v":"BA.1","o":0,"x":3.97,"y":92.3},{"v":"BA.1","o":0,"x":4.04,"y":92.9},{"v":"BA.1","o":0,"x":4,"y":87.9},{"v":"BA.1","o":0,"x":4.08,"y":86},{"v":"BA.1","o":0,"x":4,"y":84.3},{"v":"BA.1","o":0,"x":4,"y":69.5},{"v":"BA.1","o":0,"x":4,"y":57.1},
{"v":"BA.4/5","o":1,"x":5,"y":96.4},{"v":"BA.4/5","o":1,"x":5,"y":92.9},{"v":"BA.4/5","o":1,"x":5.07,"y":85.1},{"v":"BA.4/5","o":1,"x":4.93,"y":84.2},{"v":"BA.4/5","o":1,"x":5,"y":69.8},{"v":"BA.4/5","o":1,"x":5,"y":41},{"v":"BA.4/5","o":1,"x":5.13,"y":40.1},{"v":"BA.4/5","o":1,"x":4.87,"y":39},
{"v":"BA.4/5","o":0,"x":5.7,"y":99.4},{"v":"BA.4/5","o":0,"x":5.76,"y":99.6},{"v":"BA.4/5","o":0,"x":5.82,"y":98.3},{"v":"BA.4/5","o":0,"x":5.89,"y":97},{"v":"BA.4/5","o":0,"x":5.89,"y":95.1},{"v":"BA.4/5","o":0,"x":5.96,"y":99},{"v":"BA.4/5","o":0,"x":5.96,"y":92.5},{"v":"BA.4/5","o":0,"x":6,"y":89},{"v":"BA.4/5","o":0,"x":6,"y":91.2},{"v":"BA.4/5","o":0,"x":6.03,"y":92.5},{"v":"BA.4/5","o":0,"x":6.03,"y":99.6},{"v":"BA.4/5","o":0,"x":6.1,"y":99.6},{"v":"BA.4/5","o":0,"x":6.1,"y":97},{"v":"BA.4/5","o":0,"x":6.16,"y":98.3},{"v":"BA.4/5","o":0,"x":6.16,"y":95.3},{"v":"BA.4/5","o":0,"x":6.23,"y":99},{"v":"BA.4/5","o":0,"x":6.29,"y":99.9},{"v":"BA.4/5","o":0,"x":5.96,"y":96.4},{"v":"BA.4/5","o":0,"x":6.03,"y":96.4},{"v":"BA.4/5","o":0,"x":6.1,"y":95.7}],
"a2s":[{"x":1,"m":98.8,"l":86.3,"h":99},{"x":2,"m":99.4,"l":99.1,"h":99.6},{"x":3,"m":72.2,"l":56.3,"h":83},{"x":4,"m":96,"l":87.3,"h":97.7},{"x":5,"m":77,"l":40.5,"h":91},{"x":6,"m":98.3,"l":95.6,"h":98.6}],
"b1":[{"x":1,"c":"US","lo":0.049,"q1":0.0525,"med":0.064,"q3":0.0924,"hi":0.1205},{"x":2,"c":"WA.1","lo":0.042,"q1":0.052,"med":0.133,"q3":0.1945,"hi":0.307},{"x":3,"c":"BA.1","lo":0.0477,"q1":0.0627,"med":0.121,"q3":0.178,"hi":0.215},{"x":4,"c":"US","lo":0.0198,"q1":0.0501,"med":0.0582,"q3":0.141,"hi":0.1626},{"x":5,"c":"WA.1","lo":0.052,"q1":0.0924,"med":0.1155,"q3":0.204,"hi":0.286},{"x":6,"c":"BA.1","lo":0.0594,"q1":0.0812,"med":0.1374,"q3":0.2244,"hi":0.3475}],
"b2":[{"x":1,"c":"US","lo":0.0263,"q1":0.0312,"med":0.046,"q3":0.0543,"hi":0.0691},{"x":2,"c":"WA.1","lo":0.0634,"q1":0.0665,"med":0.0794,"q3":0.0893,"hi":0.1059},{"x":3,"c":"BA.1","lo":0.0268,"q1":0.0338,"med":0.0708,"q3":0.0785,"hi":0.0816},{"x":4,"c":"US","lo":0.0281,"q1":0.046,"med":0.0647,"q3":0.1137,"hi":0.162},{"x":5,"c":"WA.1","lo":0.0219,"q1":0.0597,"med":0.0963,"q3":0.2249,"hi":0.4426},{"x":6,"c":"BA.1","lo":0.0405,"q1":0.0685,"med":0.0885,"q3":0.2196,"hi":0.2754}],
"c1":[{"x":1,"c":"US","lo":2.67,"q1":2.87,"med":7.1,"q3":10.35,"hi":11.3},{"x":2,"c":"WA.1","lo":6.87,"q1":7.46,"med":10.45,"q3":14.6,"hi":19.6},{"x":3,"c":"BA.1","lo":5.76,"q1":7.07,"med":13.7,"q3":15.7,"hi":21.7},{"x":4,"c":"US","lo":1.2,"q1":1.93,"med":3.32,"q3":6.67,"hi":10.45},{"x":5,"c":"WA.1","lo":3.44,"q1":8.19,"med":9.7,"q3":12,"hi":15.9},{"x":6,"c":"BA.1","lo":2.55,"q1":6.77,"med":10,"q3":13.2,"hi":21.7}],
"c2":[{"x":1,"c":"US","lo":1.2,"q1":1.38,"med":2.24,"q3":4.15,"hi":5.83},{"x":2,"c":"WA.1","lo":1.99,"q1":2.16,"med":3.63,"q3":6.95,"hi":7.26},{"x":3,"c":"BA.1","lo":1.57,"q1":1.99,"med":4.9,"q3":7.98,"hi":8.57},{"x":4,"c":"US","lo":0.68,"q1":1.04,"med":1.38,"q3":2.34,"hi":3.15},{"x":5,"c":"WA.1","lo":1.64,"q1":2.13,"med":3.49,"q3":4.15,"hi":6.29},{"x":6,"c":"BA.1","lo":1.63,"q1":2.28,"med":2.74,"q3":4.32,"hi":7.26}],
"d1":[
{"r":1,"c":1,"v":1.2},{"r":1,"c":2,"v":-5},{"r":1,"c":3,"v":-5},{"r":1,"c":4,"v":-4},{"r":1,"c":5,"v":0.6},{"r":1,"c":6,"v":0.6},{"r":1,"c":7,"v":3.1},{"r":1,"c":8,"v":-3.3},{"r":1,"c":9,"v":-2.8},{"r":1,"c":10,"v":-1.4},{"r":1,"c":11,"v":5},{"r":1,"c":12,"v":2.2},{"r":1,"c":13,"v":3.1},{"r":1,"c":14,"v":-3.7},{"r":1,"c":15,"v":3.1},{"r":1,"c":16,"v":-1.8},{"r":1,"c":17,"v":6.7},{"r":1,"c":18,"v":2.8},
{"r":2,"c":1,"v":-3.4},{"r":2,"c":2,"v":-3.5},{"r":2,"c":3,"v":-3.2},{"r":2,"c":4,"v":-3.6},{"r":2,"c":5,"v":2.4},{"r":2,"c":6,"v":0.9},{"r":2,"c":7,"v":-1.7},{"r":2,"c":8,"v":0.1},{"r":2,"c":9,"v":0.5},{"r":2,"c":10,"v":-2.4},{"r":2,"c":11,"v":7.7},{"r":2,"c":12,"v":1},{"r":2,"c":13,"v":-1.1},{"r":2,"c":14,"v":-1.1},{"r":2,"c":15,"v":-2.7},{"r":2,"c":16,"v":-2.1},{"r":2,"c":17,"v":8.8},{"r":2,"c":18,"v":2.9},
{"r":3,"c":1,"v":-3.4},{"r":3,"c":2,"v":-3.5},{"r":3,"c":3,"v":-3.2},{"r":3,"c":4,"v":-3.8},{"r":3,"c":5,"v":0.1},{"r":3,"c":6,"v":-2.8},{"r":3,"c":7,"v":-1.4},{"r":3,"c":8,"v":2.2},{"r":3,"c":9,"v":4},{"r":3,"c":10,"v":-2.4},{"r":3,"c":11,"v":7.8},{"r":3,"c":12,"v":-0.3},{"r":3,"c":13,"v":-1.6},{"r":3,"c":14,"v":0.4},{"r":3,"c":15,"v":0.4},{"r":3,"c":16,"v":-2.5},{"r":3,"c":17,"v":8.4},{"r":3,"c":18,"v":0.4},
{"r":4,"c":1,"v":-2.9},{"r":4,"c":2,"v":-2.9},{"r":4,"c":3,"v":-2.8},{"r":4,"c":4,"v":-2.8},{"r":4,"c":5,"v":2.9},{"r":4,"c":6,"v":3.4},{"r":4,"c":7,"v":-1.9},{"r":4,"c":8,"v":-1.9},{"r":4,"c":9,"v":-1.1},{"r":4,"c":10,"v":-2.4},{"r":4,"c":11,"v":6.7},{"r":4,"c":12,"v":2.4},{"r":4,"c":13,"v":-1.8},{"r":4,"c":14,"v":-2.1},{"r":4,"c":15,"v":-2.2},{"r":4,"c":16,"v":-2.5},{"r":4,"c":17,"v":8.6},{"r":4,"c":18,"v":5},
{"r":5,"c":1,"v":-3},{"r":5,"c":2,"v":-3.3},{"r":5,"c":3,"v":-3.3},{"r":5,"c":4,"v":-3.3},{"r":5,"c":5,"v":-0.9},{"r":5,"c":6,"v":-1.4},{"r":5,"c":7,"v":-1.4},{"r":5,"c":8,"v":0},{"r":5,"c":9,"v":2.2},{"r":5,"c":10,"v":-2},{"r":5,"c":11,"v":7.2},{"r":5,"c":12,"v":0.05},{"r":5,"c":13,"v":-1.1},{"r":5,"c":14,"v":-0.6},{"r":5,"c":15,"v":1.2},{"r":5,"c":16,"v":-2.5},{"r":5,"c":17,"v":10},{"r":5,"c":18,"v":2},
{"r":6,"c":1,"v":2.9},{"r":6,"c":2,"v":-3.6},{"r":6,"c":3,"v":-3.8},{"r":6,"c":4,"v":-4.2},{"r":6,"c":5,"v":-0.7},{"r":6,"c":6,"v":-1.9},{"r":6,"c":7,"v":5},{"r":6,"c":8,"v":-2.8},{"r":6,"c":9,"v":-2},{"r":6,"c":10,"v":-3},{"r":6,"c":11,"v":4.5},{"r":6,"c":12,"v":0.6},{"r":6,"c":13,"v":7},{"r":6,"c":14,"v":-3.6},{"r":6,"c":15,"v":2.9},{"r":6,"c":16,"v":-2.9},{"r":6,"c":17,"v":5.5},{"r":6,"c":18,"v":0},
{"r":7,"c":1,"v":-1.3},{"r":7,"c":2,"v":-3.2},{"r":7,"c":3,"v":-3},{"r":7,"c":4,"v":-3.2},{"r":7,"c":5,"v":4.6},{"r":7,"c":6,"v":0.4},{"r":7,"c":7,"v":-0.5},{"r":7,"c":8,"v":-1.9},{"r":7,"c":9,"v":-0.7},{"r":7,"c":10,"v":-3.4},{"r":7,"c":11,"v":7.6},{"r":7,"c":12,"v":1.9},{"r":7,"c":13,"v":0.4},{"r":7,"c":14,"v":-2.4},{"r":7,"c":15,"v":-2.5},{"r":7,"c":16,"v":-3.1},{"r":7,"c":17,"v":8.2},{"r":7,"c":18,"v":1.8},
{"r":8,"c":1,"v":-3.4},{"r":8,"c":2,"v":-4.2},{"r":8,"c":3,"v":-3.8},{"r":8,"c":4,"v":3.2},{"r":8,"c":5,"v":1},{"r":8,"c":6,"v":-3.6},{"r":8,"c":7,"v":-2.1},{"r":8,"c":8,"v":-4.1},{"r":8,"c":9,"v":0.9},{"r":8,"c":10,"v":3.1},{"r":8,"c":11,"v":7},{"r":8,"c":12,"v":0.1},{"r":8,"c":13,"v":-1.8},{"r":8,"c":14,"v":-3},{"r":8,"c":15,"v":2.4},{"r":8,"c":16,"v":3.3},{"r":8,"c":17,"v":7},{"r":8,"c":18,"v":-2.3},
{"r":9,"c":1,"v":-1.9},{"r":9,"c":2,"v":-3.2},{"r":9,"c":3,"v":-3},{"r":9,"c":4,"v":-3},{"r":9,"c":5,"v":3.7},{"r":9,"c":6,"v":1.3},{"r":9,"c":7,"v":-1.1},{"r":9,"c":8,"v":-2.3},{"r":9,"c":9,"v":-0.5},{"r":9,"c":10,"v":-3.1},{"r":9,"c":11,"v":7.4},{"r":9,"c":12,"v":2.4},{"r":9,"c":13,"v":0},{"r":9,"c":14,"v":-2.7},{"r":9,"c":15,"v":-2.6},{"r":9,"c":16,"v":-3},{"r":9,"c":17,"v":8},{"r":9,"c":18,"v":3.3},
{"r":10,"c":1,"v":-2.9},{"r":10,"c":2,"v":-4.3},{"r":10,"c":3,"v":-4.4},{"r":10,"c":4,"v":-0.1},{"r":10,"c":5,"v":-2},{"r":10,"c":6,"v":-1.9},{"r":10,"c":7,"v":2.7},{"r":10,"c":8,"v":-2.6},{"r":10,"c":9,"v":1.2},{"r":10,"c":10,"v":-0.7},{"r":10,"c":11,"v":5.2},{"r":10,"c":12,"v":-0.7},{"r":10,"c":13,"v":7.6},{"r":10,"c":14,"v":-2.9},{"r":10,"c":15,"v":-1.2},{"r":10,"c":16,"v":1.6},{"r":10,"c":17,"v":6.9},{"r":10,"c":18,"v":-1.8}],
"d2":[
{"r":1,"c":1,"v":0.05},{"r":1,"c":2,"v":-1.9},{"r":1,"c":3,"v":-2.8},{"r":1,"c":4,"v":-2.7},{"r":1,"c":5,"v":4.5},{"r":1,"c":6,"v":1.6},{"r":1,"c":7,"v":-1.3},{"r":1,"c":8,"v":-3},{"r":1,"c":9,"v":-2.4},{"r":1,"c":10,"v":-0.9},{"r":1,"c":11,"v":-2.7},{"r":1,"c":12,"v":-2.7},{"r":1,"c":13,"v":-2.6},{"r":1,"c":14,"v":-0.2},{"r":1,"c":15,"v":-0.3},{"r":1,"c":16,"v":-2.3},{"r":1,"c":17,"v":-1.7},{"r":1,"c":18,"v":1.9},{"r":1,"c":19,"v":0.2},{"r":1,"c":20,"v":-0.9},{"r":1,"c":21,"v":-0.2},{"r":1,"c":22,"v":6.5},{"r":1,"c":23,"v":3.2},{"r":1,"c":24,"v":0.9},{"r":1,"c":25,"v":-2.6},{"r":1,"c":26,"v":-0.3},{"r":1,"c":27,"v":0},{"r":1,"c":28,"v":-2.4},{"r":1,"c":29,"v":1.2},{"r":1,"c":30,"v":-1.8},{"r":1,"c":31,"v":0.1},{"r":1,"c":32,"v":0.6},{"r":1,"c":33,"v":0.6},{"r":1,"c":34,"v":0.7},{"r":1,"c":35,"v":2.6},{"r":1,"c":36,"v":0.2},{"r":1,"c":37,"v":-0.4},{"r":1,"c":38,"v":-1},{"r":1,"c":39,"v":6.5},{"r":1,"c":40,"v":3.8},{"r":1,"c":41,"v":-0.3},{"r":1,"c":42,"v":-2.5},{"r":1,"c":43,"v":2.1},{"r":1,"c":44,"v":2},{"r":1,"c":45,"v":-2.3},{"r":1,"c":46,"v":1.5},{"r":1,"c":47,"v":-2.5},{"r":1,"c":48,"v":0.7},{"r":1,"c":49,"v":3.4},{"r":1,"c":50,"v":-0.5},{"r":1,"c":51,"v":0.7},
{"r":2,"c":1,"v":-1.7},{"r":2,"c":2,"v":-1.7},{"r":2,"c":3,"v":-2.3},{"r":2,"c":4,"v":-2.6},{"r":2,"c":5,"v":0.5},{"r":2,"c":6,"v":-0.8},{"r":2,"c":7,"v":-2},{"r":2,"c":8,"v":-2.4},{"r":2,"c":9,"v":-2.2},{"r":2,"c":10,"v":-1.9},{"r":2,"c":11,"v":-1.9},{"r":2,"c":12,"v":-2.3},{"r":2,"c":13,"v":-1.9},{"r":2,"c":14,"v":-0.4},{"r":2,"c":15,"v":1.4},{"r":2,"c":16,"v":-2.6},{"r":2,"c":17,"v":-2},{"r":2,"c":18,"v":-0.7},{"r":2,"c":19,"v":2.9},{"r":2,"c":20,"v":2.9},{"r":2,"c":21,"v":0.3},{"r":2,"c":22,"v":4.5},{"r":2,"c":23,"v":1.9},{"r":2,"c":24,"v":0.9},{"r":2,"c":25,"v":-1.1},{"r":2,"c":26,"v":0},{"r":2,"c":27,"v":-0.8},{"r":2,"c":28,"v":0.6},{"r":2,"c":29,"v":-1.2},{"r":2,"c":30,"v":-2},{"r":2,"c":31,"v":3.1},{"r":2,"c":32,"v":2.8},{"r":2,"c":33,"v":-1.8},{"r":2,"c":34,"v":7},{"r":2,"c":35,"v":-1.5},{"r":2,"c":36,"v":2.4},{"r":2,"c":37,"v":1},{"r":2,"c":38,"v":-0.9},{"r":2,"c":39,"v":5},{"r":2,"c":40,"v":1},{"r":2,"c":41,"v":0},{"r":2,"c":42,"v":-1.2},{"r":2,"c":43,"v":-1.3},{"r":2,"c":44,"v":-0.9},{"r":2,"c":45,"v":0.7},{"r":2,"c":46,"v":-2.3},{"r":2,"c":47,"v":-2.3},{"r":2,"c":48,"v":2.3},{"r":2,"c":49,"v":0.1},{"r":2,"c":50,"v":-1.5},{"r":2,"c":51,"v":5.5},
{"r":3,"c":1,"v":-2.8},{"r":3,"c":2,"v":-2.8},{"r":3,"c":3,"v":-2.4},{"r":3,"c":4,"v":-2.9},{"r":3,"c":5,"v":-1.2},{"r":3,"c":6,"v":-0.6},{"r":3,"c":7,"v":-2.6},{"r":3,"c":8,"v":-2.6},{"r":3,"c":9,"v":-2.4},{"r":3,"c":10,"v":-2.3},{"r":3,"c":11,"v":-2.3},{"r":3,"c":12,"v":-2.7},{"r":3,"c":13,"v":-2.2},{"r":3,"c":14,"v":-2.2},{"r":3,"c":15,"v":0.6},{"r":3,"c":16,"v":-3},{"r":3,"c":17,"v":-1},{"r":3,"c":18,"v":-0.5},{"r":3,"c":19,"v":2.6},{"r":3,"c":20,"v":3.8},{"r":3,"c":21,"v":1.2},{"r":3,"c":22,"v":1.5},{"r":3,"c":23,"v":2.7},{"r":3,"c":24,"v":1.9},{"r":3,"c":25,"v":0},{"r":3,"c":26,"v":2.3},{"r":3,"c":27,"v":-0.5},{"r":3,"c":28,"v":-0.2},{"r":3,"c":29,"v":0.5},{"r":3,"c":30,"v":-1.4},{"r":3,"c":31,"v":0.7},{"r":3,"c":32,"v":5},{"r":3,"c":33,"v":-1.7},{"r":3,"c":34,"v":6},{"r":3,"c":35,"v":-1.6},{"r":3,"c":36,"v":1.8},{"r":3,"c":37,"v":2.9},{"r":3,"c":38,"v":0.4},{"r":3,"c":39,"v":0.4},{"r":3,"c":40,"v":1},{"r":3,"c":41,"v":0.4},{"r":3,"c":42,"v":-0.7},{"r":3,"c":43,"v":2.1},{"r":3,"c":44,"v":-0.6},{"r":3,"c":45,"v":-0.5},{"r":3,"c":46,"v":-1.9},{"r":3,"c":47,"v":-1.9},{"r":3,"c":48,"v":0.6},{"r":3,"c":49,"v":3.4},{"r":3,"c":50,"v":-1.7},{"r":3,"c":51,"v":5.5},
{"r":4,"c":1,"v":-0.8},{"r":4,"c":2,"v":-2},{"r":4,"c":3,"v":-2},{"r":4,"c":4,"v":-1.9},{"r":4,"c":5,"v":1.3},{"r":4,"c":6,"v":1.5},{"r":4,"c":7,"v":-2},{"r":4,"c":8,"v":-2.1},{"r":4,"c":9,"v":-1.9},{"r":4,"c":10,"v":-1.7},{"r":4,"c":11,"v":-1.6},{"r":4,"c":12,"v":-1.6},{"r":4,"c":13,"v":-1},{"r":4,"c":14,"v":-1.5},{"r":4,"c":15,"v":-1.2},{"r":4,"c":16,"v":-2},{"r":4,"c":17,"v":-2},{"r":4,"c":18,"v":0.3},{"r":4,"c":19,"v":0.5},{"r":4,"c":20,"v":0.5},{"r":4,"c":21,"v":2.5},{"r":4,"c":22,"v":4.2},{"r":4,"c":23,"v":4.4},{"r":4,"c":24,"v":0.6},{"r":4,"c":25,"v":-1},{"r":4,"c":26,"v":0.1},{"r":4,"c":27,"v":-1},{"r":4,"c":28,"v":-0.7},{"r":4,"c":29,"v":-0.7},{"r":4,"c":30,"v":-1.5},{"r":4,"c":31,"v":0},{"r":4,"c":32,"v":0},{"r":4,"c":33,"v":-1.5},{"r":4,"c":34,"v":8},{"r":4,"c":35,"v":-0.2},{"r":4,"c":36,"v":-0.3},{"r":4,"c":37,"v":0.1},{"r":4,"c":38,"v":0.3},{"r":4,"c":39,"v":4.3},{"r":4,"c":40,"v":3.7},{"r":4,"c":41,"v":0.4},{"r":4,"c":42,"v":-1.3},{"r":4,"c":43,"v":0.1},{"r":4,"c":44,"v":-0.6},{"r":4,"c":45,"v":-0.6},{"r":4,"c":46,"v":-1.9},{"r":4,"c":47,"v":-1.6},{"r":4,"c":48,"v":-0.6},{"r":4,"c":49,"v":-0.6},{"r":4,"c":50,"v":-1},{"r":4,"c":51,"v":7},
{"r":5,"c":1,"v":-2.1},{"r":5,"c":2,"v":-2.6},{"r":5,"c":3,"v":-1.8},{"r":5,"c":4,"v":-2.5},{"r":5,"c":5,"v":-2.1},{"r":5,"c":6,"v":-1.6},{"r":5,"c":7,"v":-2.7},{"r":5,"c":8,"v":-2.7},{"r":5,"c":9,"v":-2.7},{"r":5,"c":10,"v":-2.4},{"r":5,"c":11,"v":-2.5},{"r":5,"c":12,"v":-2.5},{"r":5,"c":13,"v":-2.2},{"r":5,"c":14,"v":-2.2},{"r":5,"c":15,"v":-1.2},{"r":5,"c":16,"v":-2.8},{"r":5,"c":17,"v":-2.4},{"r":5,"c":18,"v":2.2},{"r":5,"c":19,"v":2.2},{"r":5,"c":20,"v":2.2},{"r":5,"c":21,"v":3.1},{"r":5,"c":22,"v":0},{"r":5,"c":23,"v":1.1},{"r":5,"c":24,"v":1.1},{"r":5,"c":25,"v":-1.5},{"r":5,"c":26,"v":1.8},{"r":5,"c":27,"v":-0.5},{"r":5,"c":28,"v":-1.3},{"r":5,"c":29,"v":2.9},{"r":5,"c":30,"v":-1.5},{"r":5,"c":31,"v":-0.6},{"r":5,"c":32,"v":2.9},{"r":5,"c":33,"v":-0.7},{"r":5,"c":34,"v":3.9},{"r":5,"c":35,"v":0},{"r":5,"c":36,"v":1.7},{"r":5,"c":37,"v":3.4},{"r":5,"c":38,"v":1.8},{"r":5,"c":39,"v":-0.2},{"r":5,"c":40,"v":1},{"r":5,"c":41,"v":0},{"r":5,"c":42,"v":-1.6},{"r":5,"c":43,"v":4.6},{"r":5,"c":44,"v":3.6},{"r":5,"c":45,"v":-1.4},{"r":5,"c":46,"v":0.1},{"r":5,"c":47,"v":-2},{"r":5,"c":48,"v":-0.9},{"r":5,"c":49,"v":5},{"r":5,"c":50,"v":-0.9},{"r":5,"c":51,"v":4.7},
{"r":6,"c":1,"v":-0.1},{"r":6,"c":2,"v":-2.9},{"r":6,"c":3,"v":-3.2},{"r":6,"c":4,"v":-2.8},{"r":6,"c":5,"v":0.1},{"r":6,"c":6,"v":-1.5},{"r":6,"c":7,"v":-2.6},{"r":6,"c":8,"v":-2.2},{"r":6,"c":9,"v":-3.2},{"r":6,"c":10,"v":0.8},{"r":6,"c":11,"v":-2.9},{"r":6,"c":12,"v":-2.3},{"r":6,"c":13,"v":-2.3},{"r":6,"c":14,"v":-2},{"r":6,"c":15,"v":-0.1},{"r":6,"c":16,"v":-1.8},{"r":6,"c":17,"v":-0.9},{"r":6,"c":18,"v":2.8},{"r":6,"c":19,"v":0},{"r":6,"c":20,"v":-1.9},{"r":6,"c":21,"v":2},{"r":6,"c":22,"v":2.7},{"r":6,"c":23,"v":-0.9},{"r":6,"c":24,"v":-0.7},{"r":6,"c":25,"v":-0.8},{"r":6,"c":26,"v":-1.4},{"r":6,"c":27,"v":4.4},{"r":6,"c":28,"v":-1.6},{"r":6,"c":29,"v":1.7},{"r":6,"c":30,"v":1.7},{"r":6,"c":31,"v":-1.7},{"r":6,"c":32,"v":1},{"r":6,"c":33,"v":2.6},{"r":6,"c":34,"v":4.4},{"r":6,"c":35,"v":1.8},{"r":6,"c":36,"v":-0.1},{"r":6,"c":37,"v":-1.1},{"r":6,"c":38,"v":-0.1},{"r":6,"c":39,"v":2.1},{"r":6,"c":40,"v":-0.3},{"r":6,"c":41,"v":0},{"r":6,"c":42,"v":-1.2},{"r":6,"c":43,"v":0.5},{"r":6,"c":44,"v":6.7},{"r":6,"c":45,"v":-1.5},{"r":6,"c":46,"v":3},{"r":6,"c":47,"v":-0.4},{"r":6,"c":48,"v":-2.2},{"r":6,"c":49,"v":2.8},{"r":6,"c":50,"v":-0.5},{"r":6,"c":51,"v":6.5},
{"r":7,"c":1,"v":0.6},{"r":7,"c":2,"v":-2},{"r":7,"c":3,"v":-2},{"r":7,"c":4,"v":-1.8},{"r":7,"c":5,"v":3.6},{"r":7,"c":6,"v":-0.9},{"r":7,"c":7,"v":-0.4},{"r":7,"c":8,"v":-1.8},{"r":7,"c":9,"v":-1.8},{"r":7,"c":10,"v":-2},{"r":7,"c":11,"v":-1},{"r":7,"c":12,"v":-2.1},{"r":7,"c":13,"v":-0.7},{"r":7,"c":14,"v":-0.7},{"r":7,"c":15,"v":1.7},{"r":7,"c":16,"v":-2},{"r":7,"c":17,"v":-1.2},{"r":7,"c":18,"v":-1.6},{"r":7,"c":19,"v":-0.6},{"r":7,"c":20,"v":-0.4},{"r":7,"c":21,"v":1.3},{"r":7,"c":22,"v":3.9},{"r":7,"c":23,"v":-0.4},{"r":7,"c":24,"v":-0.4},{"r":7,"c":25,"v":-1.1},{"r":7,"c":26,"v":-1.5},{"r":7,"c":27,"v":-0.5},{"r":7,"c":28,"v":-0.1},{"r":7,"c":29,"v":-1.4},{"r":7,"c":30,"v":-1.2},{"r":7,"c":31,"v":6},{"r":7,"c":32,"v":2.6},{"r":7,"c":33,"v":-1.2},{"r":7,"c":34,"v":7.4},{"r":7,"c":35,"v":-1.4},{"r":7,"c":36,"v":-1},{"r":7,"c":37,"v":-1},{"r":7,"c":38,"v":-0.2},{"r":7,"c":39,"v":4.2},{"r":7,"c":40,"v":-1},{"r":7,"c":41,"v":-0.7},{"r":7,"c":42,"v":-1},{"r":7,"c":43,"v":-1.5},{"r":7,"c":44,"v":-0.9},{"r":7,"c":45,"v":-0.4},{"r":7,"c":46,"v":-1.7},{"r":7,"c":47,"v":-1.6},{"r":7,"c":48,"v":1.5},{"r":7,"c":49,"v":1.5},{"r":7,"c":50,"v":1},{"r":7,"c":51,"v":6.7},
{"r":8,"c":1,"v":-1.8},{"r":8,"c":2,"v":-0.9},{"r":8,"c":3,"v":-1.3},{"r":8,"c":4,"v":-1.8},{"r":8,"c":5,"v":-0.5},{"r":8,"c":6,"v":-1.2},{"r":8,"c":7,"v":-0.3},{"r":8,"c":8,"v":-1.7},{"r":8,"c":9,"v":-0.8},{"r":8,"c":10,"v":-1.8},{"r":8,"c":11,"v":-1.8},{"r":8,"c":12,"v":-1},{"r":8,"c":13,"v":-1.6},{"r":8,"c":14,"v":-1},{"r":8,"c":15,"v":0.9},{"r":8,"c":16,"v":-1.6},{"r":8,"c":17,"v":-0.5},{"r":8,"c":18,"v":-1.7},{"r":8,"c":19,"v":-0.8},{"r":8,"c":20,"v":5},{"r":8,"c":21,"v":-0.2},{"r":8,"c":22,"v":-1.4},{"r":8,"c":23,"v":-0.9},{"r":8,"c":24,"v":7.2},{"r":8,"c":25,"v":-1.5},{"r":8,"c":26,"v":-0.7},{"r":8,"c":27,"v":-1.2},{"r":8,"c":28,"v":-1.5},{"r":8,"c":29,"v":-0.6},{"r":8,"c":30,"v":-0.8},{"r":8,"c":31,"v":0.7},{"r":8,"c":32,"v":1.6},{"r":8,"c":33,"v":1.7},{"r":8,"c":34,"v":6.5},{"r":8,"c":35,"v":-1.4},{"r":8,"c":36,"v":0.4},{"r":8,"c":37,"v":3},{"r":8,"c":38,"v":0},{"r":8,"c":39,"v":-0.8},{"r":8,"c":40,"v":-1.7},{"r":8,"c":41,"v":4.5},{"r":8,"c":42,"v":-0.9},{"r":8,"c":43,"v":-0.9},{"r":8,"c":44,"v":-0.7},{"r":8,"c":45,"v":-1.3},{"r":8,"c":46,"v":-0.7},{"r":8,"c":47,"v":-1},{"r":8,"c":48,"v":0.6},{"r":8,"c":49,"v":0.6},{"r":8,"c":50,"v":1},{"r":8,"c":51,"v":6.5},
{"r":9,"c":1,"v":-1.2},{"r":9,"c":2,"v":-1.2},{"r":9,"c":3,"v":-0.9},{"r":9,"c":4,"v":-1.5},{"r":9,"c":5,"v":0},{"r":9,"c":6,"v":-0.5},{"r":9,"c":7,"v":-0.9},{"r":9,"c":8,"v":-1.2},{"r":9,"c":9,"v":-1.2},{"r":9,"c":10,"v":-1.2},{"r":9,"c":11,"v":-1.2},{"r":9,"c":12,"v":-1.4},{"r":9,"c":13,"v":-0.5},{"r":9,"c":14,"v":-1},{"r":9,"c":15,"v":-1.3},{"r":9,"c":16,"v":-1.5},{"r":9,"c":17,"v":-1.2},{"r":9,"c":18,"v":-0.8},{"r":9,"c":19,"v":0.1},{"r":9,"c":20,"v":1.8},{"r":9,"c":21,"v":1.7},{"r":9,"c":22,"v":0.1},{"r":9,"c":23,"v":0.1},{"r":9,"c":24,"v":0},{"r":9,"c":25,"v":-0.3},{"r":9,"c":26,"v":-1},{"r":9,"c":27,"v":0.5},{"r":9,"c":28,"v":-0.4},{"r":9,"c":29,"v":-0.9},{"r":9,"c":30,"v":-0.6},{"r":9,"c":31,"v":-0.5},{"r":9,"c":32,"v":0.3},{"r":9,"c":33,"v":-0.2},{"r":9,"c":34,"v":10},{"r":9,"c":35,"v":-0.5},{"r":9,"c":36,"v":-0.2},{"r":9,"c":37,"v":1.2},{"r":9,"c":38,"v":1.2},{"r":9,"c":39,"v":0.6},{"r":9,"c":40,"v":-0.6},{"r":9,"c":41,"v":-0.2},{"r":9,"c":42,"v":-0.2},{"r":9,"c":43,"v":-1},{"r":9,"c":44,"v":0},{"r":9,"c":45,"v":-1},{"r":9,"c":46,"v":-1.3},{"r":9,"c":47,"v":-0.9},{"r":9,"c":48,"v":-0.3},{"r":9,"c":49,"v":0.1},{"r":9,"c":50,"v":2},{"r":9,"c":51,"v":10},
{"r":10,"c":1,"v":-1.5},{"r":10,"c":2,"v":1},{"r":10,"c":3,"v":-1.2},{"r":10,"c":4,"v":-1.7},{"r":10,"c":5,"v":-1.5},{"r":10,"c":6,"v":-1.5},{"r":10,"c":7,"v":-1.5},{"r":10,"c":8,"v":-1.7},{"r":10,"c":9,"v":-1.5},{"r":10,"c":10,"v":-1},{"r":10,"c":11,"v":-1.7},{"r":10,"c":12,"v":-1.2},{"r":10,"c":13,"v":-0.6},{"r":10,"c":14,"v":-1.4},{"r":10,"c":15,"v":-1.1},{"r":10,"c":16,"v":1.1},{"r":10,"c":17,"v":-1.4},{"r":10,"c":18,"v":-0.8},{"r":10,"c":19,"v":2.2},{"r":10,"c":20,"v":1},{"r":10,"c":21,"v":-0.2},{"r":10,"c":22,"v":-1.2},{"r":10,"c":23,"v":-1.5},{"r":10,"c":24,"v":1.7},{"r":10,"c":25,"v":-1.3},{"r":10,"c":26,"v":-1.4},{"r":10,"c":27,"v":-0.1},{"r":10,"c":28,"v":-1.4},{"r":10,"c":29,"v":1.6},{"r":10,"c":30,"v":-1.3},{"r":10,"c":31,"v":-1.5},{"r":10,"c":32,"v":0.9},{"r":10,"c":33,"v":4.7},{"r":10,"c":34,"v":9.2},{"r":10,"c":35,"v":-0.9},{"r":10,"c":36,"v":2.7},{"r":10,"c":37,"v":2},{"r":10,"c":38,"v":0},{"r":10,"c":39,"v":-1.3},{"r":10,"c":40,"v":-1.3},{"r":10,"c":41,"v":-0.8},{"r":10,"c":42,"v":-1.3},{"r":10,"c":43,"v":-1.3},{"r":10,"c":44,"v":-0.1},{"r":10,"c":45,"v":-1.7},{"r":10,"c":46,"v":1.3},{"r":10,"c":47,"v":-0.8},{"r":10,"c":48,"v":-1.5},{"r":10,"c":49,"v":-0.5},{"r":10,"c":50,"v":4.5},{"r":10,"c":51,"v":6.5}]
}}
